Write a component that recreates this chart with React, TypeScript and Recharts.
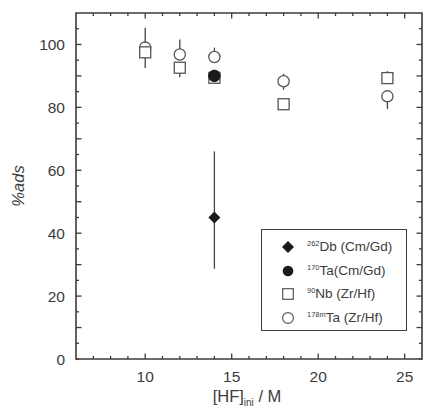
import React from 'react';
import { ScatterChart, Scatter, XAxis, YAxis, ErrorBar, ReferenceArea } from 'recharts';

const W = 423;
const H = 407;
const PL = 76;
const PR = 422;
const PT = 13;
const PB = 359;
const FONT = '"Liberation Sans", Arial, sans-serif';
const INK = '#3c3c3c';

// ticks
const xDomain = [6, 26];
const yDomain = [0, 110];
const xTicks = [7, 8, 9, 10, 11, 12, 13, 14, 15, 16, 17, 18, 19, 20, 21, 22, 23, 24, 25];
const xMajor = [10, 15, 20, 25];
const xLabels = [10, 15, 20, 25];
const yTicks = [0, 5, 10, 15, 20, 25, 30, 35, 40, 45, 50, 55, 60, 65, 70, 75, 80, 85, 90, 95, 100, 105];
const yMajor = [10, 20, 30, 40, 50, 60, 70, 80, 90, 100];
const yLabels = [0, 20, 40, 60, 80, 100];

// series: 90Nb (Zr/Hf) open squares
const nbX = [10, 12, 14, 18, 24];
const nbY = [97.5, 92.6, 89.4, 81, 89.3];
const nbErr: [number, number][] = [[5, 7.8], [3, 0], [0, 0], [0, 0], [0, 2.2]];

// 178mTa (Zr/Hf) open circles
const taZrX = [10, 12, 14, 18, 24];
const taZrY = [99, 96.8, 96, 88.3, 83.5];
const taZrErr: [number, number][] = [[0, 0], [0, 4.8], [0, 3], [2.7, 2.4], [4, 0]];

// 170Ta (Cm/Gd) filled circle
const taCmX = [14];
const taCmY = [90];
const taCmErr: [number, number][] = [[2, 0]];

// 262Db (Cm/Gd) filled diamond
const dbX = [14];
const dbY = [45];
const dbErr: [number, number][] = [[16.3, 21]];

const build = (xs: number[], ys: number[], es: [number, number][]) =>
  xs.map((x, i) => ({ x, y: ys[i], err: es[i] }));

const nbData = build(nbX, nbY, nbErr);
const taZrData = build(taZrX, taZrY, taZrErr);
const taCmData = build(taCmX, taCmY, taCmErr);
const dbData = build(dbX, dbY, dbErr);

const SquareShape = (p: any) => (
  <rect x={p.cx - 5.5} y={p.cy - 5.5} width={11} height={11} fill="#fff" stroke="#555" strokeWidth={1.3} />
);
const CircleShape = (p: any) => (
  <circle cx={p.cx} cy={p.cy} r={5.6} fill="#fff" stroke="#555" strokeWidth={1.3} />
);
const FilledCircle = (p: any) => <circle cx={p.cx} cy={p.cy} r={5.8} fill="#1a1a1a" stroke="#1a1a1a" />;
const Diamond = (p: any) => (
  <polygon
    points={`${p.cx},${p.cy - 6} ${p.cx + 6},${p.cy} ${p.cx},${p.cy + 6} ${p.cx - 6},${p.cy}`}
    fill="#1a1a1a"
  />
);

const XTick = (props: any) => {
  const { x, payload } = props;
  const v = payload.value;
  const len = xMajor.includes(v) ? 5.5 : 3;
  return (
    <g>
      <line x1={x} x2={x} y1={PB} y2={PB - len} stroke={INK} strokeWidth={1.3} />
      <line x1={x} x2={x} y1={PT} y2={PT + len} stroke={INK} strokeWidth={1.3} />
      {xLabels.includes(v) && (
        <text x={x} y={PB + 23} textAnchor="middle" fontFamily={FONT} fontSize={15.5} fill={INK}>
          {v}
        </text>
      )}
    </g>
  );
};

const YTick = (props: any) => {
  const { y, payload } = props;
  const v = payload.value;
  const len = yMajor.includes(v) ? 5.5 : 3;
  return (
    <g>
      <line x1={PL} x2={PL + len} y1={y} y2={y} stroke={INK} strokeWidth={1.3} />
      <line x1={PR} x2={PR - len} y1={y} y2={y} stroke={INK} strokeWidth={1.3} />
      {yLabels.includes(v) && (
        <text x={PL - 11} y={y + 5.5} textAnchor="end" fontFamily={FONT} fontSize={15.5} fill={INK}>
          {v}
        </text>
      )}
    </g>
  );
};

const XLabel = () => (
  <text x={247} y={402} textAnchor="middle" fontFamily={FONT} fontSize={16.5} fill={INK}>
    [HF]
    <tspan fontSize={10} dy={4}>ini</tspan>
    <tspan dy={-4}> / M</tspan>
  </text>
);

const YLabel = () => (
  <text
    x={0}
    y={0}
    transform="translate(24,186) rotate(-90)"
    textAnchor="middle"
    fontFamily={FONT}
    fontSize={16.5}
    fontStyle="italic"
    fill={INK}
  >
    %ads
  </text>
);

const legendItems = [
  { mass: '262', name: 'Db (Cm/Gd)', kind: 'diamond' },
  { mass: '170', name: 'Ta(Cm/Gd)', kind: 'filled' },
  { mass: '90', name: 'Nb (Zr/Hf)', kind: 'square' },
  { mass: '178m', name: 'Ta (Zr/Hf)', kind: 'circle' },
];

const LegendSymbol = ({ kind }: { kind: string }) => (
  <svg width={14} height={14} style={{ position: 'absolute', left: 19, top: -7 }}>
    {kind === 'diamond' && <polygon points="7,1 13,7 7,13 1,7" fill="#1a1a1a" />}
    {kind === 'filled' && <circle cx={7} cy={7} r={5.3} fill="#1a1a1a" />}
    {kind === 'square' && <rect x={1.7} y={1.7} width={10.6} height={10.6} fill="#fff" stroke="#555" strokeWidth={1.2} />}
    {kind === 'circle' && <circle cx={7} cy={7} r={5.4} fill="#fff" stroke="#555" strokeWidth={1.2} />}
  </svg>
);

export default function App() {
  return (
    <div style={{ position: 'absolute', left: 0, top: 0, width: W, height: H, background: '#fff' }}>
      <ScatterChart width={W} height={H} margin={{ top: PT, right: W - PR, left: 0, bottom: 0 }}>
        <XAxis
          type="number"
          dataKey="x"
          domain={xDomain}
          ticks={xTicks}
          allowDataOverflow
          height={H - PB}
          axisLine={false}
          tickLine={false}
          tick={<XTick />}
          interval={0}
          label={<XLabel />}
        />
        <YAxis
          type="number"
          dataKey="y"
          domain={yDomain}
          ticks={yTicks}
          allowDataOverflow
          width={PL}
          axisLine={false}
          tickLine={false}
          tick={<YTick />}
          interval={0}
          label={<YLabel />}
        />
        <ReferenceArea x1={6} x2={26} y1={0} y2={110} fill="none" fillOpacity={0} stroke={INK} strokeWidth={1.6} ifOverflow="visible" />
        <Scatter data={taZrData} shape={CircleShape} isAnimationActive={false}>
          <ErrorBar dataKey="err" direction="y" width={0} stroke="#444" strokeWidth={1.3} />
        </Scatter>
        <Scatter data={nbData} shape={SquareShape} isAnimationActive={false}>
          <ErrorBar dataKey="err" direction="y" width={0} stroke="#444" strokeWidth={1.3} />
        </Scatter>
        <Scatter data={taCmData} shape={FilledCircle} isAnimationActive={false}>
          <ErrorBar dataKey="err" direction="y" width={0} stroke="#444" strokeWidth={1.3} />
        </Scatter>
        <Scatter data={dbData} shape={Diamond} isAnimationActive={false}>
          <ErrorBar dataKey="err" direction="y" width={0} stroke="#444" strokeWidth={1.3} />
        </Scatter>
      </ScatterChart>
      <div
        style={{
          position: 'absolute',
          left: 261,
          top: 229,
          width: 146,
          height: 102,
          border: `1.3px solid ${INK}`,
          background: '#fff',
          boxSizing: 'border-box',
          fontFamily: FONT,
          color: INK,
          fontSize: 13.5,
        }}
      >
        {legendItems.map((it, i) => (
          <div key={it.name} style={{ position: 'absolute', left: 0, top: 17 + i * 23.6, width: '100%' }}>
            <LegendSymbol kind={it.kind} />
            <span style={{ position: 'absolute', left: 45, top: -9, whiteSpace: 'nowrap', lineHeight: '18px' }}>
              <span style={{ fontSize: 7.5, position: 'relative', top: -5 }}>{it.mass}</span>
              {it.name}
            </span>
          </div>
        ))}
      </div>
    </div>
  );
}
